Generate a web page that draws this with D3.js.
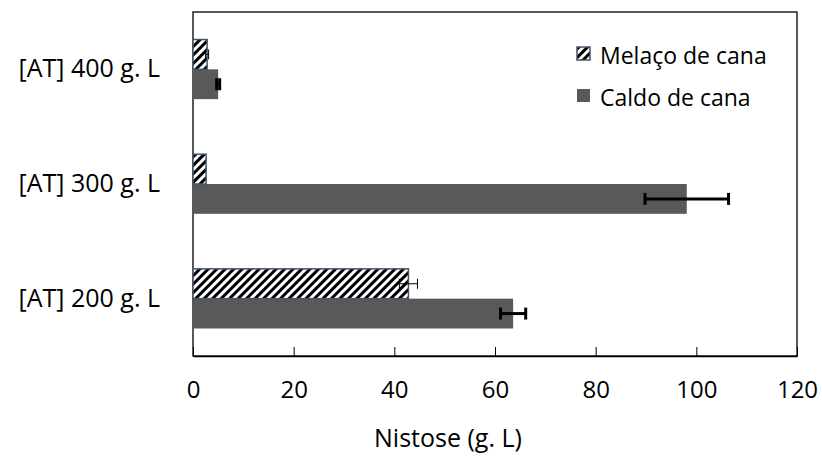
<!DOCTYPE html>
<html>
<head>
<meta charset="utf-8">
<script src="https://cdn.jsdelivr.net/npm/d3@7"></script>
<style>
  body { margin: 0; background: #fff; }
  svg text { font-family: "Open Sans", sans-serif; fill: #000; }
</style>
</head>
<body>
<svg id="chart" width="822" height="456"></svg>
<script>
// data
var categories = ["[AT] 400 g. L", "[AT] 300 g. L", "[AT] 200 g. L"];
var seriesNames = ["Melaço de cana", "Caldo de cana"];
var melaco = [2.8, 2.6, 42.8];
var melacoErr = [0.3, 0, 1.8];
var caldo = [5.0, 98.1, 63.6];
var caldoErr = [0.3, 8.3, 2.5];
var xTicks = [0, 20, 40, 60, 80, 100, 120];

function drawChart() {
  var svg = d3.select("svg#chart");
  var plotLeft = 193, plotRight = 797, plotTop = 12, plotBottom = 356;

  var x = d3.scaleLinear().domain([0, 120]).range([plotLeft, plotRight]);
  var y = d3.scaleBand().domain(categories).range([plotTop, plotBottom]).paddingInner(0.48).paddingOuter(0.24);
  var sub = d3.scaleBand().domain(seriesNames).range([0, y.bandwidth()]);

  var defs = svg.append("defs");
  var pat = defs.append("pattern")
      .attr("id", "hatch")
      .attr("patternUnits", "userSpaceOnUse")
      .attr("width", 6).attr("height", 6)
      .attr("patternTransform", "rotate(45)");
  pat.append("rect").attr("width", 6).attr("height", 6).attr("fill", "#fff");
  pat.append("rect").attr("width", 3).attr("height", 6).attr("fill", "#000");

  // plot box
  svg.append("rect")
      .attr("x", plotLeft).attr("y", plotTop)
      .attr("width", plotRight - plotLeft).attr("height", plotBottom - plotTop)
      .attr("fill", "none").attr("stroke", "#000").attr("stroke-width", 1.3);

  var rows = categories.map(function(c, i) {
    return { cat: c, m: melaco[i], me: melacoErr[i], c: caldo[i], ce: caldoErr[i] };
  });

  // bars
  svg.selectAll("rect.caldo").data(rows).enter().append("rect")
      .attr("class", "caldo")
      .attr("x", x(0))
      .attr("y", function(d) { return y(d.cat) + sub("Caldo de cana"); })
      .attr("width", function(d) { return x(d.c) - x(0); })
      .attr("height", sub.bandwidth())
      .attr("fill", "#595959");

  svg.selectAll("rect.melaco").data(rows).enter().append("rect")
      .attr("class", "melaco")
      .attr("x", x(0))
      .attr("y", function(d) { return y(d.cat) + sub("Melaço de cana"); })
      .attr("width", function(d) { return x(d.m) - x(0); })
      .attr("height", sub.bandwidth())
      .attr("fill", "url(#hatch)")
      .attr("stroke", "#44546a")
      .attr("stroke-width", 1.5);

  // error bars
  function errBars(cls, valKey, errKey, series, width, capH) {
    var g = svg.selectAll("g." + cls).data(rows.filter(function(d) { return d[errKey] > 0; }))
        .enter().append("g").attr("class", cls);
    var cy = function(d) { return y(d.cat) + sub(series) + sub.bandwidth() / 2; };
    g.append("line")
        .attr("x1", function(d) { return x(d[valKey] - d[errKey]); })
        .attr("x2", function(d) { return x(d[valKey] + d[errKey]); })
        .attr("y1", cy).attr("y2", cy)
        .attr("stroke", "#000").attr("stroke-width", width);
    [-1, 1].forEach(function(s) {
      g.append("line")
          .attr("x1", function(d) { return x(d[valKey] + s * d[errKey]); })
          .attr("x2", function(d) { return x(d[valKey] + s * d[errKey]); })
          .attr("y1", function(d) { return cy(d) - capH / 2; })
          .attr("y2", function(d) { return cy(d) + capH / 2; })
          .attr("stroke", "#000").attr("stroke-width", width);
    });
  }
  errBars("errM", "m", "me", "Melaço de cana", 1, 10);
  errBars("errC", "c", "ce", "Caldo de cana", 3, 12);

  // x axis
  var xAxis = svg.append("g")
      .attr("transform", "translate(0," + plotBottom + ")")
      .call(d3.axisBottom(x).tickValues(xTicks).tickSizeInner(-9).tickSizeOuter(0).tickPadding(25));
  xAxis.select(".domain").attr("stroke", "#000").attr("stroke-width", 1.3);
  xAxis.selectAll(".tick line").attr("stroke", "#000");
  xAxis.selectAll("text").attr("font-size", 24).attr("font-family", "Open Sans");

  // category labels
  var yAxis = svg.append("g")
      .attr("transform", "translate(" + plotLeft + ",0)")
      .call(d3.axisLeft(y).tickSize(0).tickPadding(33));
  yAxis.select(".domain").remove();
  yAxis.selectAll("text").attr("font-size", 25).attr("font-family", "Open Sans");

  // axis title
  svg.append("text")
      .attr("x", (plotLeft + plotRight) / 2 - 47)
      .attr("y", 447)
      .attr("text-anchor", "middle")
      .attr("font-size", 25)
      .text("Nistose (g. L)");

  // legend
  var legend = svg.append("g").attr("transform", "translate(577,47)");
  seriesNames.forEach(function(name, i) {
    var row = legend.append("g").attr("transform", "translate(0," + i * 42 + ")");
    row.append("rect")
        .attr("width", 13).attr("height", 13)
        .attr("fill", i === 0 ? "url(#hatch)" : "#595959")
        .attr("stroke", i === 0 ? "#44546a" : "none")
        .attr("stroke-width", 1.5);
    row.append("text")
        .attr("x", 23).attr("y", 17)
        .attr("font-size", 23)
        .text(name);
  });
}

drawChart();
</script>
</body>
</html>
